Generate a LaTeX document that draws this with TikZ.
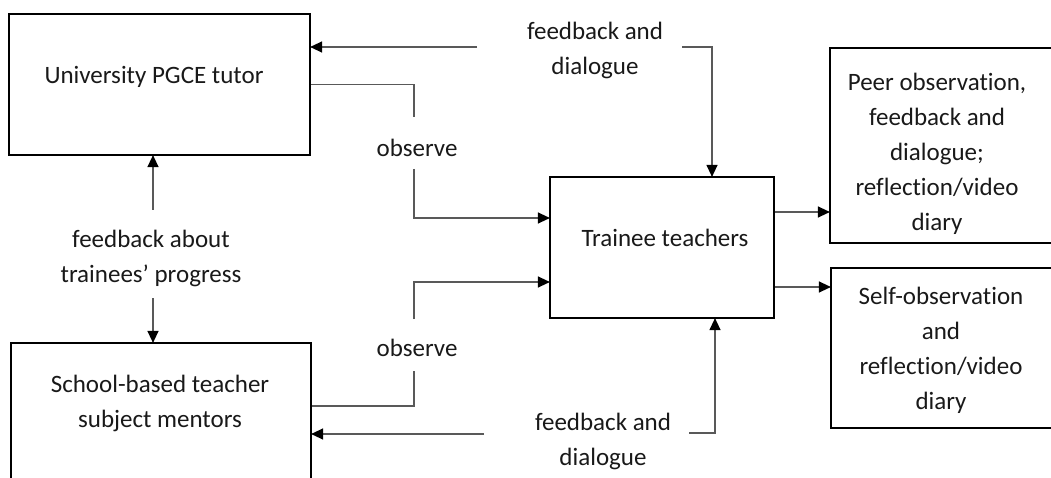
\documentclass[tikz,border=0pt]{standalone}
\usepackage{fontspec}
\setmainfont{Carlito}[Ligatures=NoCommon]
\usetikzlibrary{arrows.meta}
\begin{document}
\begin{tikzpicture}[x=1pt,y=-1pt,
  box/.style={draw=black,line width=2.2pt,rectangle,inner sep=0pt},
  txt/.style={font=\fontsize{25}{35}\selectfont,align=center,inner sep=0pt,text=black!90},
  conn/.style={draw=black!65,line width=1.3pt},
  arr/.style={conn,-{Triangle[length=12pt,width=11pt,color=black]},shorten >=-1pt}]
\useasboundingbox (0,0) rectangle (1051,478);
\clip (0,0) rectangle (1051,478);
% boxes
\node[box,minimum width=301,minimum height=141] (tutor) at (159.5,84.5) {};
\node[box,minimum width=300,minimum height=160] (mentor) at (161,423) {};
\node[box,minimum width=224,minimum height=141] (trainee) at (662,247.5) {};
\node[box,minimum width=235,minimum height=195] (peer) at (947.5,145.5) {};
\node[box,minimum width=235,minimum height=160] (self) at (948.5,348) {};
% texts
\node[txt] (tutortxt) at (154,77) {University PGCE tutor};
\node[txt] (mentortxt) at (160,403.5) {School-based teacher\\subject mentors};
\node[txt] (traineetxt) at (665,238) {Trainee teachers};
\node[txt] (peertxt) at (937,154) {Peer observation,\\feedback and\\dialogue;\\reflection/video\\diary};
\node[txt] (selftxt) at (941,350) {Self-observation\\and\\reflection/video\\diary};
\node[txt] (fbtop) at (595,50) {feedback and\\dialogue};
\node[txt] (fbbot) at (603,441.5) {feedback and\\dialogue};
\node[txt] (fbprog) at (151,258.5) {feedback about\\trainees’ progress};
\node[txt] (obs1) at (417,148) {observe};
\node[txt] (obs2) at (417,348) {observe};
% coordinates
\coordinate (ft1) at (477,47);
\coordinate (ft2) at (682,47);
\coordinate (fb1) at (484,434);
\coordinate (fb2) at (689,433);
\coordinate (o1a) at (414,117);
\coordinate (o1b) at (414,169);
\coordinate (o2a) at (414,319);
\coordinate (o2b) at (414,371);
\coordinate (pu) at (153,210);
\coordinate (pd) at (153,298);
% connectors
\draw[arr] (ft1) -- (ft1 -| tutor.east);
\draw[arr] (ft2) -| ([xshift=50pt]trainee.north);
\draw[arr] (fb1) -- (fb1 -| mentor.east);
\draw[arr] (fb2) -| ([xshift=53pt]trainee.south);
\draw[conn] (tutor.east) -| (o1a);
\draw[arr] (o1b) |- ([yshift=29.5pt]trainee.west);
\draw[arr] (o2a) |- ([yshift=-34.5pt]trainee.west);
\draw[conn] (o2b) |- ([yshift=17pt]mentor.east);
\draw[arr] (pu) -- (pu |- tutor.south);
\draw[arr] (pd) -- (pd |- mentor.north);
\draw[arr] ([yshift=35.5pt]trainee.east) -- ([yshift=35.5pt]trainee.east -| peer.west);
\draw[arr] ([yshift=-39.5pt]trainee.east) -- ([yshift=-39.5pt]trainee.east -| self.west);
\end{tikzpicture}
\end{document}
